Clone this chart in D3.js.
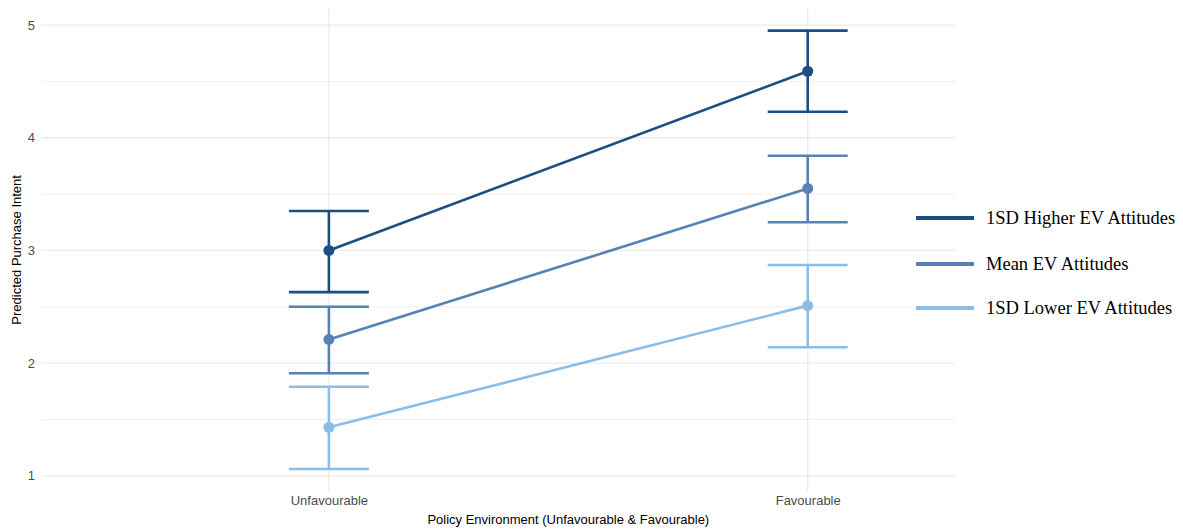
<!DOCTYPE html>
<html>
<head>
<meta charset="utf-8">
<script src="https://cdn.jsdelivr.net/npm/d3@7"></script>
<style>
  html, body { margin: 0; padding: 0; background: #fff; }
  svg { display: block; }
</style>
</head>
<body>
<svg id="chart" width="1183" height="529"></svg>
<script>
// Policy environment categories
const categories = ["Unfavourable", "Favourable"];

// Series (EV attitude levels) with predicted means and 95% CIs per category
const seriesNames = ["1SD Higher EV Attitudes", "Mean EV Attitudes", "1SD Lower EV Attitudes"];
const seriesColors = ["#1d4e81", "#5882b3", "#8cbde6"];

const highMean = [3.00, 4.59];
const highLow  = [2.63, 4.23];
const highHigh = [3.35, 4.95];

const meanMean = [2.21, 3.55];
const meanLow  = [1.91, 3.25];
const meanHigh = [2.50, 3.84];

const lowMean  = [1.43, 2.51];
const lowLow   = [1.06, 2.14];
const lowHigh  = [1.79, 2.87];

const yTicks = [1, 2, 3, 4, 5];
const yMinor = [1.5, 2.5, 3.5, 4.5];

const series = [
  { name: seriesNames[0], color: seriesColors[0], mean: highMean, lo: highLow, hi: highHigh },
  { name: seriesNames[1], color: seriesColors[1], mean: meanMean, lo: meanLow, hi: meanHigh },
  { name: seriesNames[2], color: seriesColors[2], mean: lowMean,  lo: lowLow,  hi: lowHigh }
];

const svg = d3.select("#chart");
const sans = "Liberation Sans, Arial, Helvetica, sans-serif";

// Panel geometry
const panelLeft = 41.6, panelRight = 1095, gridRight = 955;
const panelTop = 8.7, panelBottom = 491;

// Discrete x positions (1, 2) with 0.6 expansion on each side
const x = d3.scaleLinear().domain([0.4, 2.6]).range([panelLeft, panelRight]);
const y = d3.scaleLinear().domain([0.865, 5.145]).range([panelBottom, panelTop]);

const g = svg.append("g");

// Minor horizontal grid
g.selectAll(".minor").data(yMinor).enter().append("line")
  .attr("x1", panelLeft).attr("x2", gridRight)
  .attr("y1", d => y(d)).attr("y2", d => y(d))
  .attr("stroke", "#f0f0f0").attr("stroke-width", 1);

// Major horizontal grid
g.selectAll(".major").data(yTicks).enter().append("line")
  .attr("x1", panelLeft).attr("x2", gridRight)
  .attr("y1", d => y(d)).attr("y2", d => y(d))
  .attr("stroke", "#ebebeb").attr("stroke-width", 1.3);

// Vertical grid at categories
g.selectAll(".vgrid").data(categories).enter().append("line")
  .attr("x1", (d, i) => x(i + 1)).attr("x2", (d, i) => x(i + 1))
  .attr("y1", panelTop).attr("y2", panelBottom)
  .attr("stroke", "#ebebeb").attr("stroke-width", 1.3);

// Y axis tick labels
const yAxis = d3.axisLeft(y).tickValues(yTicks).tickSize(0).tickPadding(0).tickFormat(d3.format("d"));
const ya = svg.append("g").attr("transform", `translate(35,0)`).call(yAxis);
ya.select(".domain").remove();
ya.selectAll("text").attr("fill", "#4d4d4d").attr("font-family", sans).attr("font-size", 13);

// X axis tick labels
const xAxis = d3.axisBottom(x).tickValues([1, 2]).tickSize(0).tickPadding(0).tickFormat(d => categories[d - 1]);
const xa = svg.append("g").attr("transform", `translate(0,${panelBottom + 5})`).call(xAxis);
xa.select(".domain").remove();
xa.selectAll("text").attr("fill", "#4d4d4d").attr("font-family", sans).attr("font-size", 13);

// Axis titles
svg.append("text")
  .attr("x", (panelLeft + panelRight) / 2).attr("y", 524)
  .attr("text-anchor", "middle")
  .attr("font-family", sans).attr("font-size", 13)
  .attr("fill", "#000")
  .text("Policy Environment (Unfavourable & Favourable)");

svg.append("text")
  .attr("transform", `translate(21,${(panelTop + panelBottom) / 2}) rotate(-90)`)
  .attr("text-anchor", "middle")
  .attr("font-family", sans).attr("font-size", 13)
  .attr("fill", "#000")
  .text("Predicted Purchase Intent");

// Error bars, lines and points
const capHalf = 0.0835; // in category units
const line = d3.line().x((d, i) => x(i + 1)).y(d => y(d));

series.forEach(s => {
  const sg = svg.append("g");
  s.mean.forEach((m, i) => {
    const cx = x(i + 1);
    sg.append("line").attr("x1", cx).attr("x2", cx)
      .attr("y1", y(s.lo[i])).attr("y2", y(s.hi[i]))
      .attr("stroke", s.color).attr("stroke-width", 2.6);
    [s.lo[i], s.hi[i]].forEach(v => {
      sg.append("line")
        .attr("x1", x(i + 1 - capHalf)).attr("x2", x(i + 1 + capHalf))
        .attr("y1", y(v)).attr("y2", y(v))
        .attr("stroke", s.color).attr("stroke-width", 2.6);
    });
  });
  sg.append("path").datum(s.mean)
    .attr("d", line).attr("fill", "none")
    .attr("stroke", s.color).attr("stroke-width", 2.6);
  sg.selectAll("circle").data(s.mean).enter().append("circle")
    .attr("cx", (d, i) => x(i + 1)).attr("cy", d => y(d))
    .attr("r", 5.5).attr("fill", s.color);
});

// Legend
const legendY = [218, 264, 308];
const lg = svg.append("g");
series.forEach((s, i) => {
  lg.append("line")
    .attr("x1", 916).attr("x2", 974)
    .attr("y1", legendY[i]).attr("y2", legendY[i])
    .attr("stroke", s.color).attr("stroke-width", 4);
  lg.append("text")
    .attr("x", 986).attr("y", legendY[i])
    .attr("dy", "0.35em")
    .attr("font-family", "Liberation Serif, 'Times New Roman', serif")
    .attr("font-size", 18.5)
    .attr("fill", "#000")
    .text(s.name);
});
</script>
</body>
</html>
